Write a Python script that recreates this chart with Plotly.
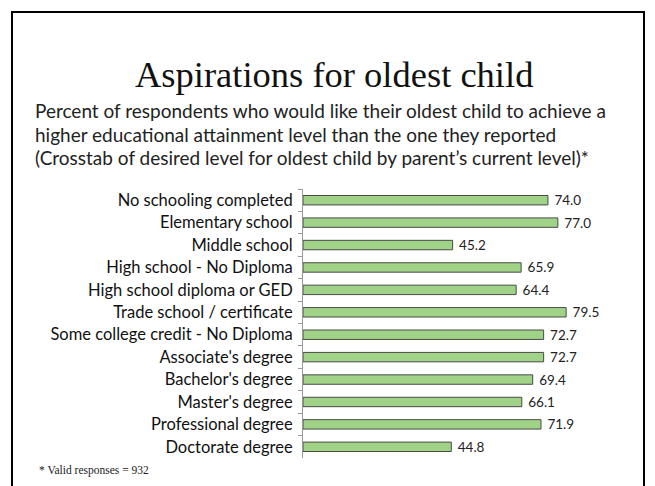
import plotly.graph_objects as go

categories = [
    "No schooling completed",
    "Elementary school",
    "Middle school",
    "High school - No Diploma",
    "High school diploma or GED",
    "Trade school / certificate",
    "Some college credit - No Diploma",
    "Associate's degree",
    "Bachelor's degree",
    "Master's degree",
    "Professional degree",
    "Doctorate degree",
]
values = [74.0, 77.0, 45.2, 65.9, 64.4, 79.5, 72.7, 72.7, 69.4, 66.1, 71.9, 44.8]

title_text = "Aspirations for oldest child"
subtitle_lines = [
    "Percent of respondents who would like their oldest child to achieve a",
    "higher educational attainment level than the one they reported",
    "(Crosstab of desired level for oldest child by parent\u2019s current level)*",
]
footnote_text = "* Valid responses = 932"

W, H = 655, 486
L, R, T, B = 303, 21, 189, 28
PW = W - L - R
PH = H - T - B

def px(x):
    return (x - L) / PW

def py(y):
    return 1 - (y - T) / PH

fig = go.Figure()
fig.add_trace(go.Bar(
    x=values,
    y=categories,
    orientation="h",
    width=0.42,
    marker=dict(color="#a0d387", line=dict(color="#4a4a4a", width=1)),
    texttemplate=" %{x:.1f}",
    textposition="outside",
    constraintext="none",
    textfont=dict(family="Lato, sans-serif", size=13.5, color="#222"),
    cliponaxis=False,
    hoverinfo="skip",
))

annotations = [
    dict(text=title_text, x=px(334), y=py(74), xref="paper", yref="paper",
         xanchor="center", yanchor="middle", showarrow=False,
         font=dict(family="Liberation Serif, serif", size=36.5, color="#111")),
    dict(text=footnote_text, x=px(37), y=py(470), xref="paper", yref="paper",
         xanchor="left", yanchor="middle", showarrow=False,
         font=dict(family="Liberation Serif, serif", size=11.5, color="#222")),
]
for i, line in enumerate(subtitle_lines):
    annotations.append(dict(text=line, x=px(33), y=py(111 + 23 * i), xref="paper", yref="paper",
                            xanchor="left", yanchor="middle", showarrow=False,
                            font=dict(family="Lato, sans-serif", size=19, color="#222")))

fig.update_layout(
    width=W, height=H,
    margin=dict(l=L, r=R, t=T, b=B),
    paper_bgcolor="white", plot_bgcolor="white",
    showlegend=False,
    annotations=annotations,
    xaxis=dict(range=[0, 100], visible=False),
    yaxis=dict(autorange="reversed", showline=True, linecolor="#999", linewidth=1,
               ticks="outside", tickson="boundaries", ticklen=4, tickcolor="#999",
               ticklabelstandoff=6,
               showgrid=False,
               tickfont=dict(family="Lato, sans-serif", size=16.5, color="#111")),
    shapes=[dict(type="rect", xref="paper", yref="paper",
                 x0=px(12), x1=px(644), y0=py(12), y1=py(500),
                 line=dict(color="black", width=2), fillcolor="rgba(0,0,0,0)")],
)

fig.write_html("out.html")
